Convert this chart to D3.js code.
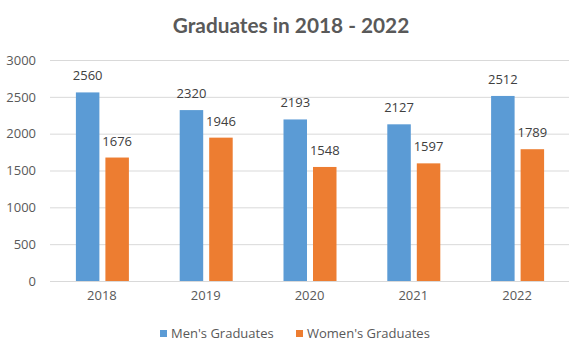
<!DOCTYPE html>
<html><head><meta charset="utf-8">
<script src="https://cdn.jsdelivr.net/npm/d3@7"></script>
<style>body{margin:0;background:#fff}svg{display:block}</style>
</head><body>
<svg id="c" width="579" height="355"></svg>
<script>
const years = ["2018","2019","2020","2021","2022"];
const menGraduates = [2560,2320,2193,2127,2512];
const womenGraduates = [1676,1946,1548,1597,1789];
const seriesNames = ["Men's Graduates","Women's Graduates"];
const seriesColors = ["#5B9BD5","#ED7D31"];
const yTicks = [0,500,1000,1500,2000,2500,3000];

const svg = d3.select("#c");
const W = 579, H = 355;
const x = d3.scaleBand().domain(years).range([50,569]).padding(0);
const y = d3.scaleLinear().domain([0,3000]).range([281,60]);
const font = "'Open Sans', 'Segoe UI', sans-serif";
const txt = "#595959";

svg.append("rect").attr("width",W).attr("height",H).attr("fill","#fff");

svg.append("text").attr("x",291).attr("y",33).attr("text-anchor","middle")
  .attr("font-family","Lato, Calibri, sans-serif").attr("font-weight","bold")
  .attr("font-size",20.8).attr("fill",txt).text("Graduates in 2018 - 2022");

const yAxis = d3.axisLeft(y).tickValues(yTicks).tickFormat(d3.format("d")).tickSize(-(569-50)).tickPadding(14);
const gy = svg.append("g").attr("transform","translate(50,0)").call(yAxis);
gy.select(".domain").remove();
gy.selectAll(".tick line").attr("stroke","#D9D9D9").attr("stroke-width",1);
gy.selectAll(".tick text").attr("font-family",font).attr("font-size",13).attr("fill",txt);

const xAxis = d3.axisBottom(x).tickSize(0).tickPadding(10);
const gx = svg.append("g").attr("transform","translate(0,281)").call(xAxis);
gx.select(".domain").remove();
gx.selectAll(".tick text").attr("font-family",font).attr("font-size",13).attr("fill",txt);

const bw = 23.5, gap = 6;
const inner = d3.scaleOrdinal().domain([0,1]).range([-(bw+gap/2)+0.5, gap/2+0.5]);
const data = [menGraduates, womenGraduates];
data.forEach((vals,si)=>{
  const g = svg.append("g");
  g.selectAll("rect").data(vals).join("rect")
    .attr("x",(d,i)=>x(years[i])+x.bandwidth()/2+inner(si))
    .attr("y",d=>y(d)).attr("width",bw).attr("height",d=>y(0)-y(d))
    .attr("fill",seriesColors[si]);
  g.selectAll("text").data(vals).join("text")
    .attr("x",(d,i)=>x(years[i])+x.bandwidth()/2+inner(si)+bw/2)
    .attr("y",d=>y(d)-12).attr("text-anchor","middle")
    .attr("font-family",font).attr("font-size",13).attr("fill","#404040")
    .text(d=>d);
});

const lg = svg.append("g");
const legendX = [160, 296];
seriesNames.forEach((n,i)=>{
  lg.append("rect").attr("x",legendX[i]).attr("y",330).attr("width",7).attr("height",7).attr("fill",seriesColors[i]);
  lg.append("text").attr("x",legendX[i]+11).attr("y",338).attr("font-family",font)
    .attr("font-size",13).attr("fill",txt).text(n);
});
</script>
</body></html>
